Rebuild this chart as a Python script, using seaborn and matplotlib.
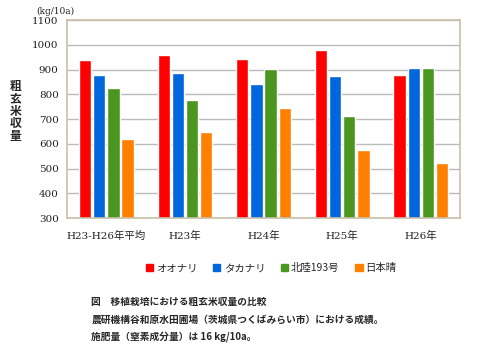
import matplotlib
matplotlib.use("Agg")
import matplotlib.pyplot as plt
import pandas as pd
import seaborn as sns

# data
years = ["H23-H26年平均", "H23年", "H24年", "H25年", "H26年"]
varieties = ["オオナリ", "タカナリ", "北陸193号", "日本晴"]
oonari = [940, 960, 941, 980, 878]
takanari = [876, 884, 842, 874, 906]
hokuriku193 = [824, 778, 901, 712, 906]
nipponbare = [620, 647, 743, 574, 521]
colors = ["#FF0000", "#0066DD", "#4A961E", "#FF8000"]

df = pd.DataFrame(
    {
        "year": years * 4,
        "variety": [v for v in varieties for _ in years],
        "yield": oonari + takanari + hokuriku193 + nipponbare,
    }
)

sns.set_theme(style="white")
plt.rcParams["font.family"] = ["DejaVu Serif", "Noto Sans CJK JP"]
jp = ["Noto Sans CJK JP", "DejaVu Sans"]
tick_font = ["DejaVu Serif", "Noto Sans CJK JP"]

fig = plt.figure(figsize=(4.8, 3.53), dpi=100)
ax = fig.add_axes([0.1396, 0.3824, 0.8188, 0.5609])

sns.barplot(
    data=df,
    x="year",
    y="yield",
    hue="variety",
    palette=colors,
    width=0.72,
    gap=0.13,
    saturation=1,
    legend=False,
    ax=ax,
)

ax.set_ylim(300, 1100)
ax.set_yticks(range(300, 1101, 100))
ax.set_xlim(-0.5, 4.5)
ax.yaxis.grid(True, color="#BBBBBB", linewidth=1)
ax.set_axisbelow(True)
for s in ax.spines.values():
    s.set_color("#C8C0A8")
    s.set_linewidth(1.2)
ax.set_xlabel("")
ax.set_ylabel("")
ax.tick_params(axis="both", length=0, pad=6, labelsize=7.5, colors="#222222")
for lbl in ax.get_xticklabels() + ax.get_yticklabels():
    lbl.set_family(tick_font)
ax.tick_params(axis="x", pad=9)

fig.text(0.075, 0.98, "(kg/10a)", fontsize=6.5, family=tick_font, va="top")
fig.text(0.032, 0.685, "\n".join("粗玄米収量"), fontsize=8.5, family=jp,
         fontweight="bold", ha="center", va="center", linespacing=0.95)

handles = [plt.Rectangle((0, 0), 1, 1, color=c) for c in colors]
fig.legend(
    handles,
    varieties,
    loc="center",
    bbox_to_anchor=(0.565, 0.24),
    ncol=4,
    frameon=False,
    prop={"family": jp, "size": 7.5},
    handlelength=0.7,
    handleheight=0.7,
    handletextpad=0.3,
    columnspacing=1.5,
)

caption = [
    "図　移植栽培における粗玄米収量の比較",
    "農研機構谷和原水田圃場（茨城県つくばみらい市）における成績。",
    "施肥量（窒素成分量）は 16 kg/10a。",
]
for i, line in enumerate(caption):
    fig.text(0.19, 0.1445 - i * 0.0495, line, fontsize=7.0, family=jp,
             fontweight="bold", va="center")

fig.savefig("out.png", dpi=100)
